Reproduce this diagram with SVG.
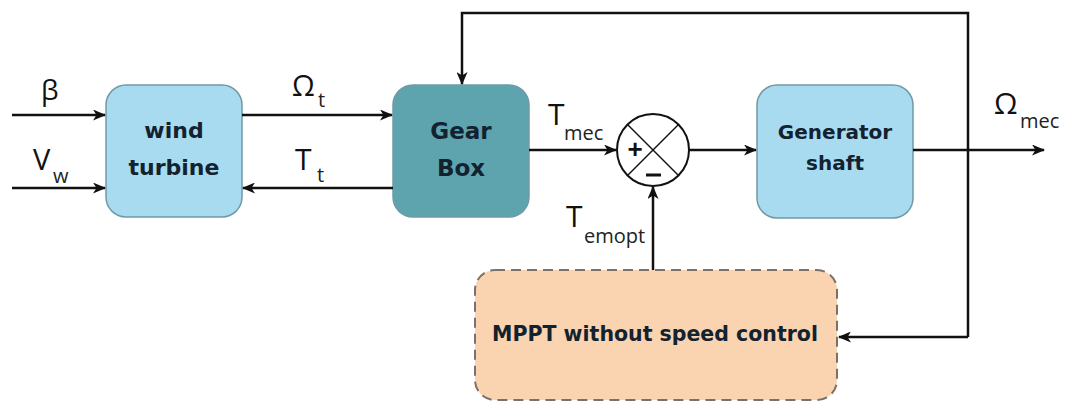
<svg xmlns="http://www.w3.org/2000/svg" width="1068" height="403" viewBox="0 0 1068 403">
<defs>
<style>
.box{stroke:#6f9aa6;stroke-width:1.5}
.lbl{font-family:"DejaVu Sans","Liberation Sans",sans-serif;font-weight:bold;fill:#13222f;text-anchor:middle}
.sym{font-family:"Open Sans","DejaVu Sans",sans-serif;fill:#111}
.sub{font-family:"Open Sans","DejaVu Sans",sans-serif;fill:#222;font-size:20px}
.ln{stroke:#111;stroke-width:2.5;fill:none}
</style>
<marker id="ah" viewBox="0 0 13 11" refX="12" refY="5.5" markerWidth="13" markerHeight="11" markerUnits="userSpaceOnUse" orient="auto">
<path d="M0,0 L13,5.5 L0,11 L3.5,5.5 z" fill="#111"/>
</marker>
</defs>
<rect width="1068" height="403" fill="#fff"/>
<g id="wind-turbine">
<rect class="box" x="106" y="85" width="136" height="132" rx="20" fill="#a8dbef"/>
<text class="lbl" x="174" y="138" font-size="22">wind</text>
<text class="lbl" x="174" y="175" font-size="22">turbine</text>
</g>
<g id="gear-box">
<rect class="box" x="393" y="85" width="136" height="132" rx="20" fill="#5ea4af" stroke="#4f8c96"/>
<text class="lbl" x="461" y="139" font-size="23">Gear</text>
<text class="lbl" x="461" y="176" font-size="23">Box</text>
</g>
<g id="sum">
<circle cx="653" cy="150" r="36" fill="#fff" stroke="#111" stroke-width="2"/>
<line x1="627.5" y1="124.5" x2="678.5" y2="175.5" stroke="#111" stroke-width="1.5"/>
<line x1="678.5" y1="124.5" x2="627.5" y2="175.5" stroke="#111" stroke-width="1.5"/>
<text x="635" y="158" font-family="Liberation Sans,Arial,sans-serif" font-weight="bold" font-size="26" text-anchor="middle" fill="#111">+</text>
<line x1="646" y1="175" x2="661" y2="175" stroke="#111" stroke-width="3"/>
</g>
<g id="generator-shaft">
<rect class="box" x="757" y="85" width="156" height="133" rx="20" fill="#a8dbef"/>
<text class="lbl" x="835" y="139" font-size="20">Generator</text>
<text class="lbl" x="835" y="170" font-size="20">shaft</text>
</g>
<g id="mppt">
<rect x="475" y="270" width="362" height="130" rx="20" fill="#fad3b1" stroke="#7d7068" stroke-width="2" stroke-dasharray="10,6"/>
<text class="lbl" x="655" y="341" font-size="20.5" fill="#2a1f1a">MPPT without speed control</text>
</g>
<g id="connectors">
<line class="ln" x1="12" y1="115" x2="105" y2="115" marker-end="url(#ah)"/>
<line class="ln" x1="12" y1="188" x2="105" y2="188" marker-end="url(#ah)"/>
<line class="ln" x1="242" y1="115" x2="392" y2="115" marker-end="url(#ah)"/>
<line class="ln" x1="393" y1="188" x2="243" y2="188" marker-end="url(#ah)"/>
<line class="ln" x1="529" y1="150" x2="616" y2="150" marker-end="url(#ah)"/>
<line class="ln" x1="689" y1="150" x2="756" y2="150" marker-end="url(#ah)"/>
<line class="ln" x1="913" y1="150" x2="1044" y2="150" marker-end="url(#ah)"/>
<line class="ln" x1="653" y1="270" x2="653" y2="187" marker-end="url(#ah)"/>
<polyline class="ln" points="968,337 968,13 462,13 462,84" marker-end="url(#ah)"/>
<line class="ln" x1="968" y1="337" x2="839" y2="337" marker-end="url(#ah)"/>
</g>
<g id="labels">
<text class="sym" x="41" y="100" font-size="28">β</text>
<text class="sym" x="33" y="170" font-size="29">V</text>
<text class="sub" x="53" y="183">w</text>
<text class="sym" x="292" y="96" font-size="29">Ω</text>
<text class="sub" x="318" y="107">t</text>
<text class="sym" x="295" y="170" font-size="30">T</text>
<text class="sub" x="317" y="182">t</text>
<text class="sym" x="548" y="125" font-size="30">T</text>
<text class="sub" x="564" y="140">mec</text>
<text class="sym" x="566" y="227" font-size="30">T</text>
<text class="sub" x="584" y="243">emopt</text>
<text class="sym" x="994" y="114" font-size="30">Ω</text>
<text class="sub" x="1020" y="128">mec</text>
</g>
</svg>
